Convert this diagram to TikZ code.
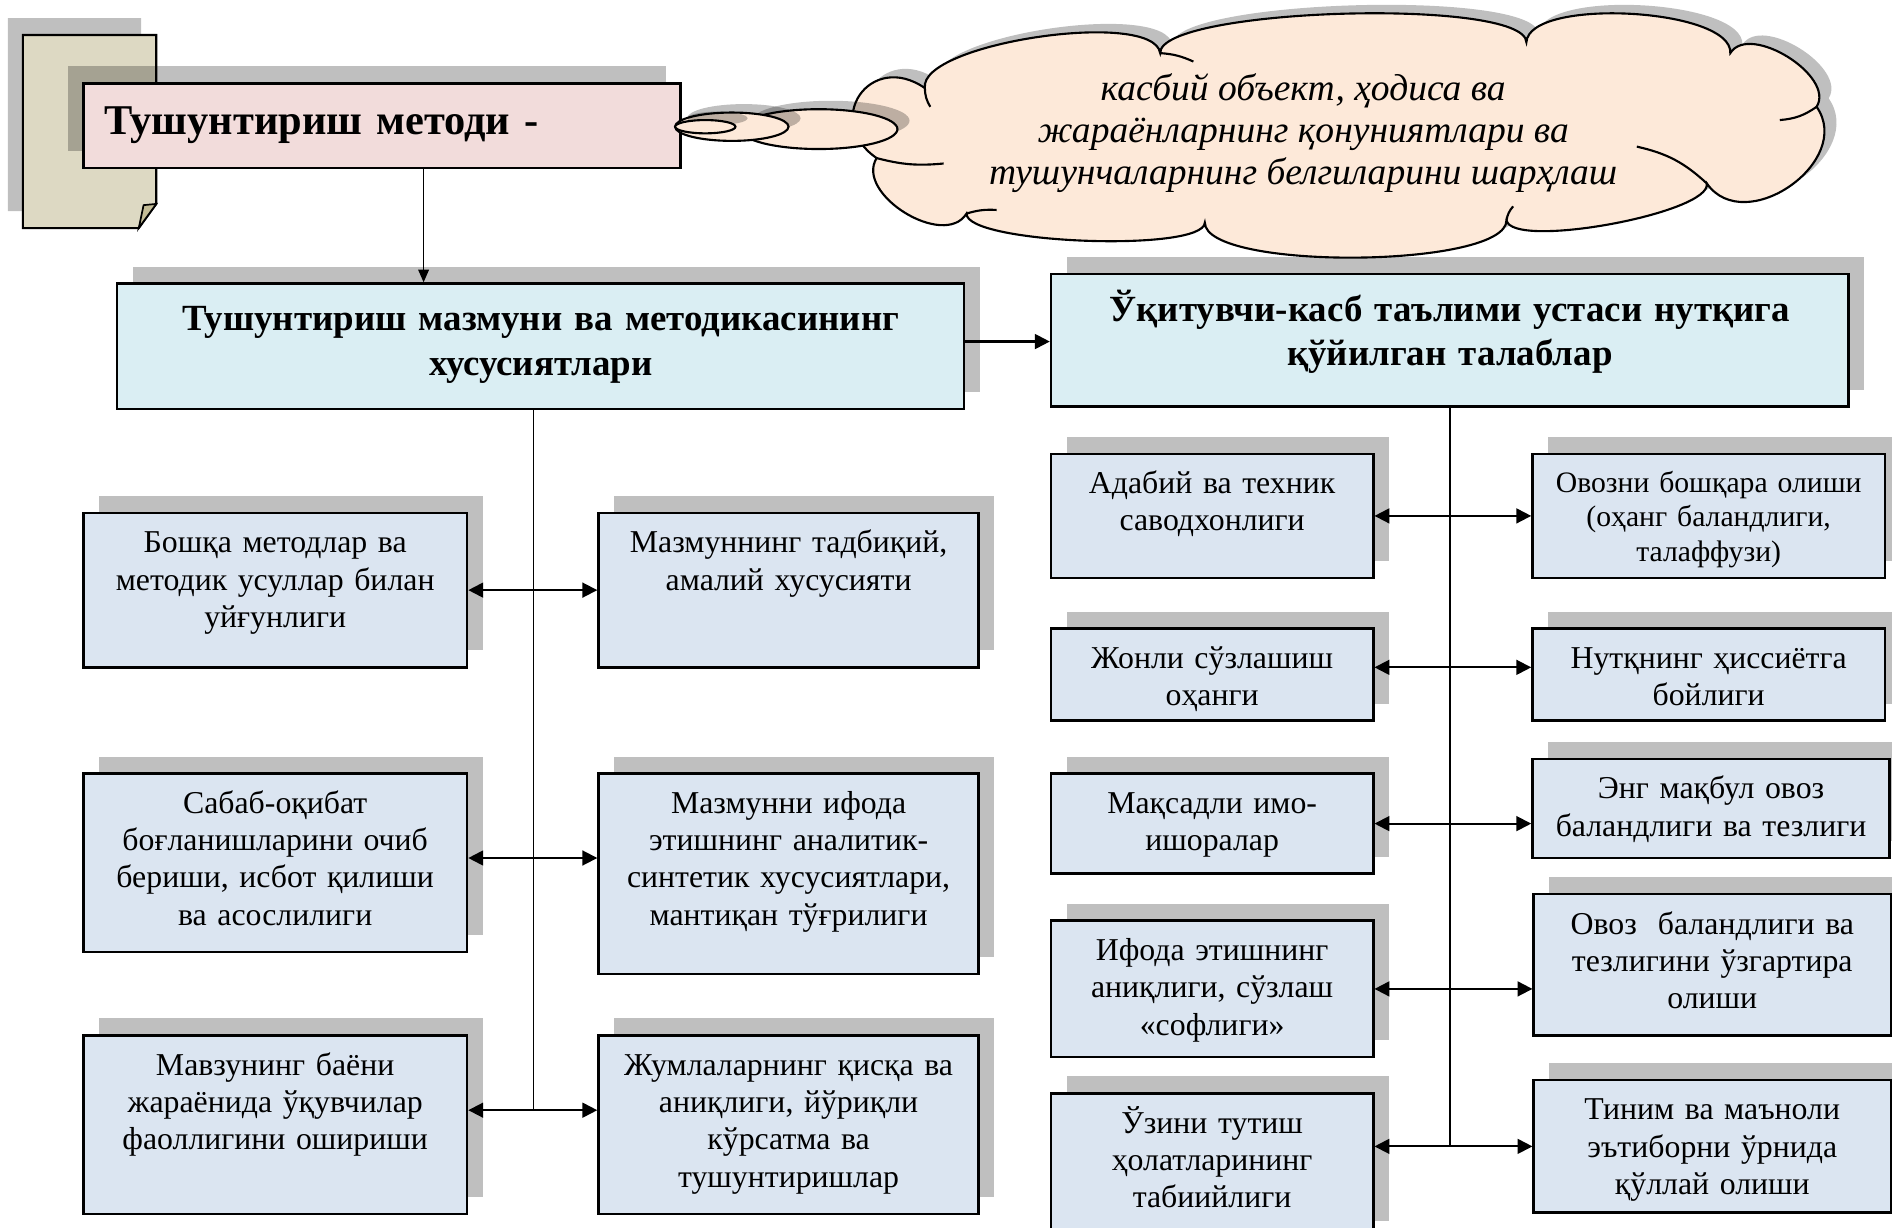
\documentclass[tikz,border=0pt]{standalone}
\usepackage{fontspec}
\setmainfont{Liberation Serif}
\usetikzlibrary{arrows.meta,positioning,calc,shapes.geometric,shadows}

\definecolor{boxblue}{HTML}{DBE5F1}
\definecolor{headblue}{HTML}{DAEEF3}
\definecolor{titlepink}{HTML}{F2DCDB}
\definecolor{pagetan}{HTML}{DDD9C3}
\definecolor{foldtan}{HTML}{C4BD97}
\definecolor{cloudpeach}{HTML}{FDE9D9}

\tikzset{
  rshadow/.style={drop shadow={shadow xshift=0.26cm,shadow yshift=0.28cm,fill=black,opacity=0.25}},
  lshadow/.style={drop shadow={shadow xshift=-0.25cm,shadow yshift=0.28cm,fill=black,opacity=0.25}},
  cshadow/.style={drop shadow={shadow xshift=0.2cm,shadow yshift=0.14cm,fill=black,opacity=0.25}},
  sbox/.style={draw,line width=1.2pt,fill=boxblue,anchor=north west,inner sep=0pt,align=center,
    text height=0.66cm,font=\fontsize{15}{17.6}\selectfont,rshadow},
  hbox/.style={sbox,fill=headblue,text height=0.78cm,font=\bfseries\fontsize{17.4}{21}\selectfont},
  bubble/.style={ellipse,draw,line width=1pt,fill=cloudpeach,inner sep=0pt,cshadow},
  link/.style={line width=0.9pt,{Triangle[length=7pt,width=7pt]}-{Triangle[length=7pt,width=7pt]}},
  stem/.style={line width=0.8pt},
}

\begin{document}
\begin{tikzpicture}
\useasboundingbox (0,0) rectangle (31.36,-20.34);

\draw[line width=1pt,fill=pagetan,lshadow] (0.38,-0.58) -- (2.59,-0.58) -- (2.59,-3.38) -- (2.30,-3.78) -- (0.38,-3.78) -- cycle;
\draw[line width=0.8pt,fill=foldtan] (2.30,-3.78) -- (2.38,-3.40) -- (2.59,-3.38) -- cycle;

\node[draw,line width=1.2pt,fill=titlepink,anchor=north west,minimum height=1.4cm,text width=9.2cm,
  inner xsep=0.35cm,inner ysep=0pt,align=left,font=\bfseries\fontsize{20}{24}\selectfont,lshadow]
  (title) at (1.36,-1.36) {Тушунтириш методи -};

\coordinate (cl1) at (30.11,-1.77);
\coordinate (cl2) at (28.68,-0.88);
\coordinate (cl3) at (25.30,-0.70);
\coordinate (cl4) at (19.23,-0.88);
\coordinate (cl5) at (15.33,-1.46);
\coordinate (cl6) at (14.53,-2.62);
\coordinate (cl7) at (16.02,-3.54);
\coordinate (cl8) at (19.97,-3.69);
\coordinate (cl9) at (24.97,-3.65);
\coordinate (cl10) at (28.29,-3.04);
\draw[line width=1pt,fill=cloudpeach,cshadow] (cl1)
  \foreach \p/\q/\k in {cl1/cl2/0.6,cl2/cl3/0.75,cl3/cl4/0.75,cl4/cl5/0.75,cl5/cl6/1.1,
    cl6/cl7/0.7,cl7/cl8/0.5,cl8/cl9/0.8,cl9/cl10/0.5,cl10/cl1/1.1}
  { .. controls ($(\p)!\k cm!-90:(\q)$) and ($(\q)!\k cm!90:(\p)$) .. (\q) } -- cycle;
\draw[line width=1pt] (cl1) to[bend left=15] (29.50,-1.99)
  (cl10) to[bend right=15] (27.13,-2.43)
  (cl9) to[bend left=15] (25.08,-3.42)
  (cl7) to[bend left=10] (16.52,-3.48)
  (cl6) to[bend right=10] (15.64,-2.71)
  (cl5) to[bend right=15] (15.42,-1.77)
  (cl4) to[bend left=10] (19.78,-1.02);

\node[bubble,minimum width=2.61cm,minimum height=0.66cm] (bub3) at (13.57,-2.14) {};
\node[bubble,minimum width=1.88cm,minimum height=0.47cm] (bub2) at (12.13,-2.10) {};
\node[bubble,minimum width=1.0cm,minimum height=0.22cm] (bub1) at (11.69,-2.10) {};
\node[align=center,font=\itshape\fontsize{17.7}{19.8}\selectfont] (ideatxt) at (21.6,-2.2)
  {касбий объект, ҳодиса ва\\ жараёнларнинг қонуниятлари ва\\ тушунчаларнинг белгиларини шарҳлаш};

\node[hbox,text width=14.04cm,text depth=1.30cm] (m1) at (1.92,-4.68)
  {Тушунтириш мазмуни ва методикасининг\\ хусусиятлари};
\node[hbox,text width=13.22cm,text depth=1.42cm] (m2) at (17.40,-4.52)
  {Ўқитувчи-касб таълими устаси нутқига\\ қўйилган талаблар};

\node[sbox,text width=6.36cm,text depth=1.90cm] (l1) at (1.36,-8.48)
  {Бошқа методлар ва\\ методик усуллар билан\\ уйғунлиги};
\node[sbox,text width=6.30cm,text depth=1.90cm] (r1) at (9.90,-8.48)
  {Мазмуннинг тадбиқий,\\ амалий хусусияти};
\node[sbox,text width=6.36cm,text depth=2.30cm] (l2) at (1.36,-12.80)
  {Сабаб-оқибат\\ боғланишларини очиб\\ бериши, исбот қилиши\\ ва асослилиги};
\node[sbox,text width=6.30cm,text depth=2.66cm] (r2) at (9.90,-12.80)
  {Мазмунни ифода\\ этишнинг аналитик-\\ синтетик хусусиятлари,\\ мантиқан тўғрилиги};
\node[sbox,text width=6.36cm,text depth=2.30cm] (l3) at (1.36,-17.14)
  {Мавзунинг баёни\\ жараёнида ўқувчилар\\ фаоллигини ошириши};
\node[sbox,text width=6.30cm,text depth=2.30cm] (r3) at (9.90,-17.14)
  {Жумлаларнинг қисқа ва\\ аниқлиги, йўриқли\\ кўрсатма ва\\ тушунтиришлар};

\node[sbox,text width=5.34cm,text depth=1.40cm] (a1) at (17.40,-7.50)
  {Адабий ва техник\\ саводхонлиги};
\node[sbox,text width=5.84cm,text height=0.64cm,text depth=1.42cm,font=\fontsize{14}{16.3}\selectfont] (b1) at (25.38,-7.50)
  {Овозни бошқара олиши\\ (оҳанг баландлиги,\\ талаффузи)};
\node[sbox,text width=5.34cm,text depth=0.86cm] (a2) at (17.40,-10.40)
  {Жонли сўзлашиш\\ оҳанги};
\node[sbox,text width=5.84cm,text depth=0.86cm] (b2) at (25.38,-10.40)
  {Нутқнинг ҳиссиётга\\ бойлиги};
\node[sbox,text width=5.34cm,text depth=1.00cm] (a3) at (17.40,-12.80)
  {Мақсадли имо-\\ ишоралар};
\node[sbox,text width=5.92cm,text depth=0.98cm] (b3) at (25.38,-12.56)
  {Энг мақбул овоз\\ баландлиги ва тезлиги};
\node[sbox,text width=5.34cm,text depth=1.60cm] (a4) at (17.40,-15.24)
  {Ифода этишнинг\\ аниқлиги, сўзлаш\\ «софлиги»};
\node[sbox,text width=5.92cm,text depth=1.68cm] (b4) at (25.40,-14.80)
  {Овоз~~баландлиги ва\\ тезлигини ўзгартира\\ олиши};
\node[sbox,text width=5.34cm,text depth=1.74cm] (a5) at (17.40,-18.10)
  {Ўзини тутиш\\ ҳолатларининг\\ табиийлиги};
\node[sbox,text width=5.92cm,text depth=1.54cm] (b5) at (25.40,-17.88)
  {Тиним ва маъноли\\ эътиборни ўрнида\\ қўллай олиши};

\draw[stem,-{Triangle[length=6pt,width=5pt]}] ([xshift=0.69cm]title.south) -- ([xshift=0.69cm]title.south |- m1.north);
\draw[line width=1pt,-{Triangle[length=7pt,width=7pt]}] ([yshift=0.08cm]m1.east) -- ([yshift=0.08cm]m1.east -| m2.west);

\draw[stem] ([xshift=-0.12cm]m1.south) -- ([xshift=-0.12cm,yshift=0.24cm]m1.south |- l3.east);
\draw[link] (l1.east) -- (l1.east -| r1.west);
\draw[link] ([yshift=0.08cm]l2.east) -- ([yshift=0.08cm]l2.east -| r2.west);
\draw[link] ([yshift=0.24cm]l3.east) -- ([yshift=0.24cm]l3.east -| r3.west);

\draw[stem] (m2.south) -- (m2.south |- b5.west);
\draw[link] (a1.east) -- (a1.east -| b1.west);
\draw[link] ([yshift=0.12cm]a2.east) -- ([yshift=0.12cm]a2.east -| b2.west);
\draw[link] (a3.east) -- (a3.east -| b3.west);
\draw[link] (a4.east) -- (a4.east -| b4.west);
\draw[link] (b5.west -| a5.east) -- (b5.west);
\end{tikzpicture}
\end{document}
